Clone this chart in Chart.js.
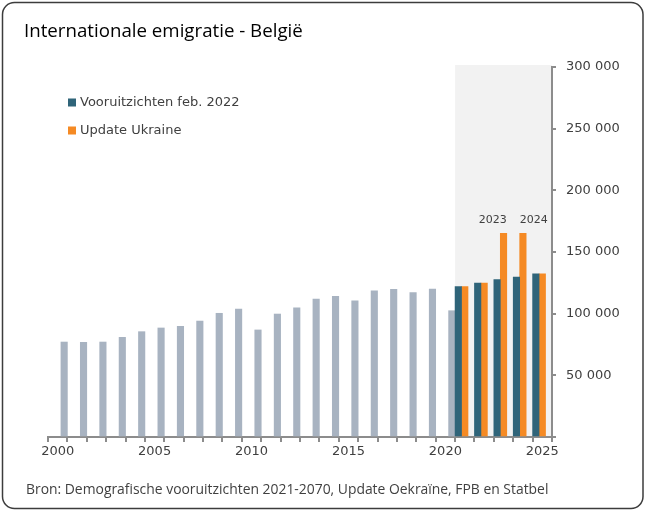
<!DOCTYPE html>
<html>
<head>
<meta charset="utf-8">
<script src="https://cdn.jsdelivr.net/npm/chart.js@4/dist/chart.umd.min.js"></script>
<style>
  html, body { margin: 0; padding: 0; background: #ffffff; }
  #wrap { width: 646px; height: 511px; position: relative; }
</style>
</head>
<body>
<div id="wrap"><canvas id="c" width="646" height="511"></canvas></div>
<script>
// ---- data ----
const years = ['2000','2001','2002','2003','2004','2005','2006','2007','2008','2009','2010','2011','2012',
  '2013','2014','2015','2016','2017','2018','2019','2020','2021','2022','2023','2024','2025'];
const observed = [77000, 76800, 77000, 80800, 85400, 88400, 89700, 94000, 100300, 103800, 86800, 99700, 104700,
  111900, 114100, 110500, 118600, 119700, 117000, 120000, 102400, null, null, null, null, null];
const forecastFeb2022 = [null, null, null, null, null, null, null, null, null, null, null, null, null,
  null, null, null, null, null, null, null, null, 121900, 124900, 127600, 129700, 132200];
const updateUkraine = [null, null, null, null, null, null, null, null, null, null, null, null, null,
  null, null, null, null, null, null, null, null, 121900, 124900, 165200, 165200, 132200];
const seriesLabels = ['Vooruitzichten feb. 2022', 'Update Ukraine', 'Waarnemingen'];
const annotatedYears = ['2023', '2024'];
const shadedFromYear = '2021';
const yMin = 0, yMax = 300000, yStep = 50000;
const titleText = 'Internationale emigratie - België';
const sourceText = 'Bron: Demografische vooruitzichten 2021-2070, Update Oekraïne, FPB en Statbel';

// ---- styles ----
const C_BLUE = '#2f6479', C_ORANGE = '#f58a24', C_GREY = '#a8b3c1';
const AXIS = '#8c8c8c', TXT = '#404040';

function fmt(v) { return String(v).replace(/\B(?=(\d{3})+(?!\d))/g, ' '); }

const decor = {
  id: 'decor',
  beforeDraw(chart) {
    const ctx = chart.ctx, ca = chart.chartArea, xs = chart.scales.x;
    ctx.save();
    ctx.fillStyle = '#ffffff';
    ctx.fillRect(0, 0, chart.width, chart.height);
    // shaded forecast region
    const idx = years.indexOf(shadedFromYear);
    const cw = xs.width / years.length;
    const x0 = xs.getPixelForValue(idx) - cw / 2;
    ctx.fillStyle = '#f2f2f2';
    ctx.fillRect(x0, ca.top - 2, ca.right - x0, ca.bottom - ca.top + 2);
    // frame
    ctx.strokeStyle = '#3c3c3c';
    ctx.lineWidth = 1.5;
    ctx.beginPath();
    ctx.roundRect(2.5, 2.5, 640.5, 506, 12);
    ctx.stroke();
    ctx.restore();
  },
  afterDatasetsDraw(chart) {
    const ctx = chart.ctx;
    ctx.save();
    ctx.font = '11px "DejaVu Sans"';
    ctx.fillStyle = TXT;
    ctx.textBaseline = 'alphabetic';
    const meta = chart.getDatasetMeta(1);
    annotatedYears.forEach((y, k) => {
      const i = years.indexOf(y);
      const bar = meta.data[i];
      if (!bar) return;
      const p = bar.getProps(['x', 'y', 'width'], true);
      if (k === 0) { ctx.textAlign = 'right'; ctx.fillText(y, p.x + p.width / 2, p.y - 10); }
      else { ctx.textAlign = 'left'; ctx.fillText(y, p.x - p.width / 2, p.y - 10); }
    });
    ctx.restore();
  },
  afterDraw(chart) {
    const ctx = chart.ctx;
    ctx.save();
    // title
    ctx.fillStyle = '#000000';
    ctx.font = '18.7px "Open Sans"';
    ctx.textAlign = 'left';
    ctx.textBaseline = 'alphabetic';
    ctx.fillText(titleText, 24, 37);
    // legend
    ctx.font = '13px "DejaVu Sans"';
    ctx.textBaseline = 'middle';
    [0, 1].forEach((d, k) => {
      const ds = chart.data.datasets[d];
      const cy = 102.5 + k * 28;
      ctx.fillStyle = ds.backgroundColor;
      ctx.fillRect(68, cy - 4, 8, 8);
      ctx.fillStyle = TXT;
      ctx.fillText(ds.label, 80, cy + 0.5);
    });
    // source
    ctx.font = '13.9px "Open Sans"';
    ctx.fillStyle = '#404040';
    ctx.textBaseline = 'alphabetic';
    ctx.fillText(sourceText, 26, 494);
    ctx.restore();
  }
};

new Chart(document.getElementById('c'), {
  type: 'bar',
  data: {
    labels: years,
    datasets: [
      { label: seriesLabels[0], data: forecastFeb2022, backgroundColor: C_BLUE },
      { label: seriesLabels[1], data: updateUkraine, backgroundColor: C_ORANGE },
      { label: seriesLabels[2], data: observed, backgroundColor: C_GREY }
    ]
  },
  options: {
    responsive: false,
    animation: false,
    devicePixelRatio: 1,
    layout: { padding: { left: 48, right: 14, top: 67, bottom: 44 } },
    datasets: { bar: { categoryPercentage: 1, barPercentage: 1, borderWidth: 0 } },
    plugins: { legend: { display: false }, tooltip: { enabled: false }, title: { display: false } },
    scales: {
      x: {
        type: 'category',
        offset: true,
        grid: { offset: true, drawOnChartArea: false, drawTicks: true, tickLength: 5, color: AXIS, lineWidth: 2 },
        border: { color: AXIS, width: 2 },
        ticks: {
          autoSkip: false, maxRotation: 0, minRotation: 0, padding: 2,
          color: TXT, font: { family: 'DejaVu Sans', size: 13 },
          callback: (v, i) => (Number(years[i]) % 5 === 0 ? years[i] : '')
        },
        afterFit: (s) => { s.height = 30; }
      },
      y: {
        position: 'right',
        min: yMin, max: yMax,
        grid: { drawOnChartArea: false, drawTicks: true, tickLength: 4, color: AXIS, lineWidth: 2 },
        border: { color: AXIS, width: 2 },
        ticks: {
          stepSize: yStep, padding: 10, color: TXT, font: { family: 'DejaVu Sans', size: 13 },
          callback: (v) => (v === 0 ? '' : fmt(v))
        },
        afterFit: (s) => { s.width = 80; }
      }
    }
  },
  plugins: [decor]
});
</script>
</body>
</html>
